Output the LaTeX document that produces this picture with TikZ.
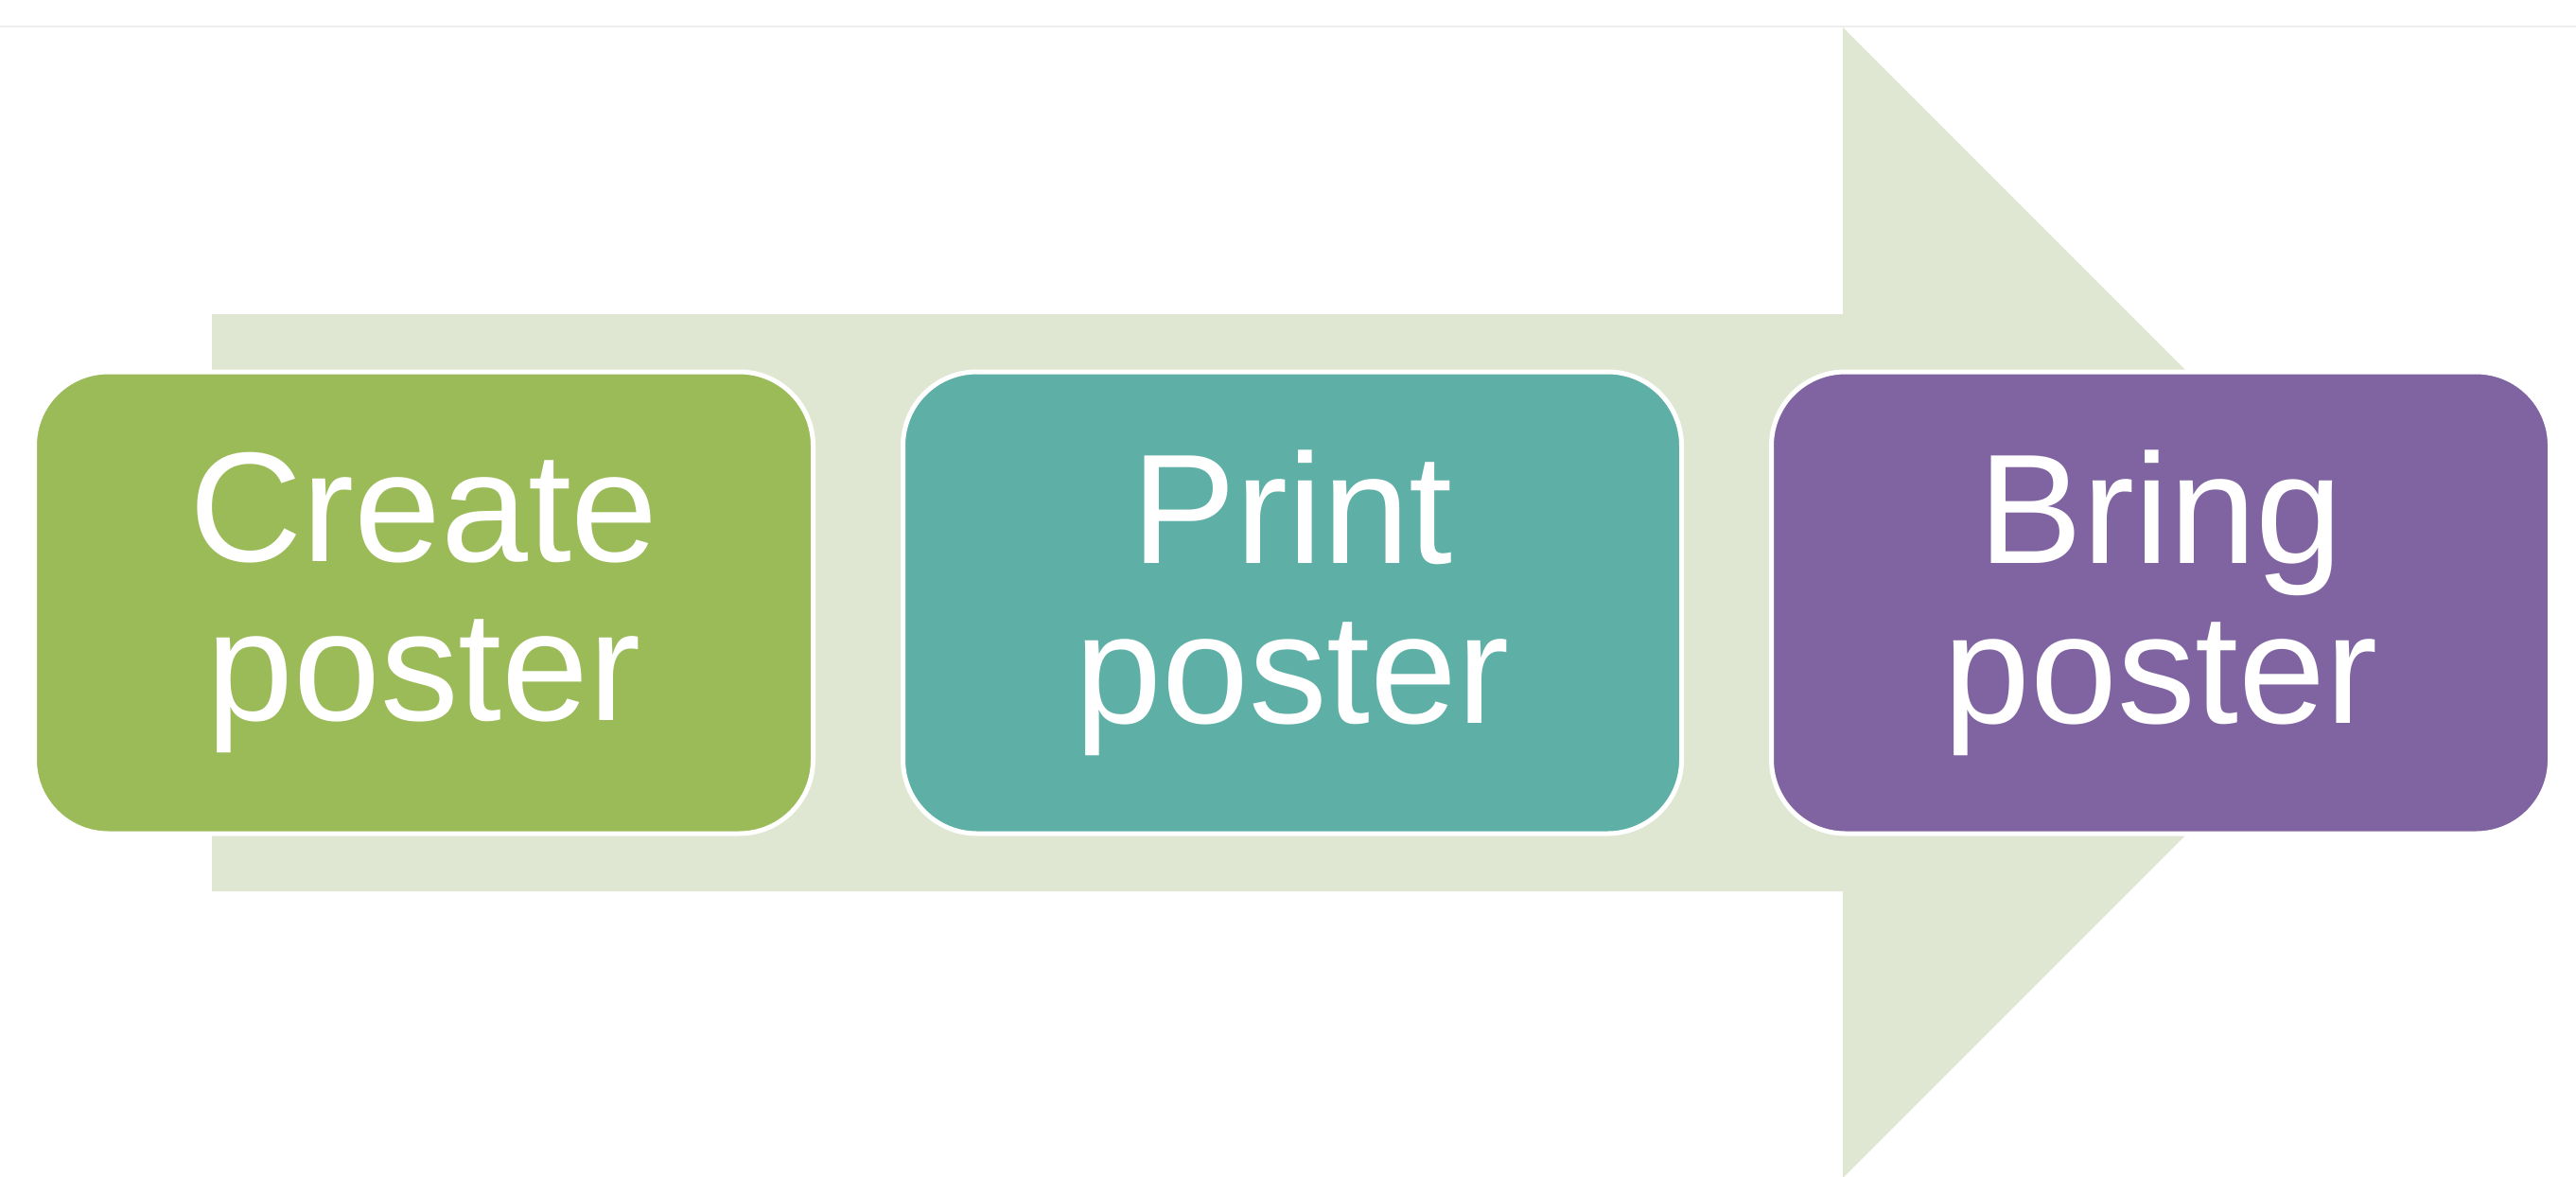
\documentclass[tikz,border=0pt]{standalone}
\usepackage{fontspec}
\setmainfont{Liberation Sans}
\usepackage{tikz}
\usetikzlibrary{positioning}

\definecolor{stepgreen}{HTML}{9BBB59}
\definecolor{stepteal}{HTML}{5EAFA6}
\definecolor{steppurple}{HTML}{8064A2}
\definecolor{arrowtint}{HTML}{DFE7D3}
\definecolor{rulegray}{HTML}{EFEFEF}

\begin{document}
\begin{tikzpicture}[
    stepbox/.style={draw=white, line width=0.05cm, rectangle, rounded corners=0.78cm, minimum width=8.23cm, minimum height=4.88cm, outer sep=0pt, align=center, text=white, font={\fontsize{47pt}{48pt}\selectfont}},
    flowarrow/.style={fill=arrowtint, draw=none}
]
    \useasboundingbox (0,0) rectangle (27.23,12.43);

    % --- Top rule ---
    \draw[rulegray, line width=0.02cm] (0,12.15) -- (27.23,12.15);

    % --- Background arrow ---
    \fill[flowarrow] (2.24,9.11) -- (19.48,9.11) -- (19.48,12.14) -- (25.56,6.06)
        -- (19.48,-0.02) -- (19.48,3.01) -- (2.24,3.01) -- cycle;

    % --- Steps ---
    \node[stepbox, fill=stepgreen] (create) at (4.48,6.06) {Create\\poster};
    \node[stepbox, fill=stepteal, right=0.95cm of create] (print) {Print\\poster};
    \node[stepbox, fill=steppurple, right=0.95cm of print] (bring) {Bring\\poster};

\end{tikzpicture}
\end{document}
